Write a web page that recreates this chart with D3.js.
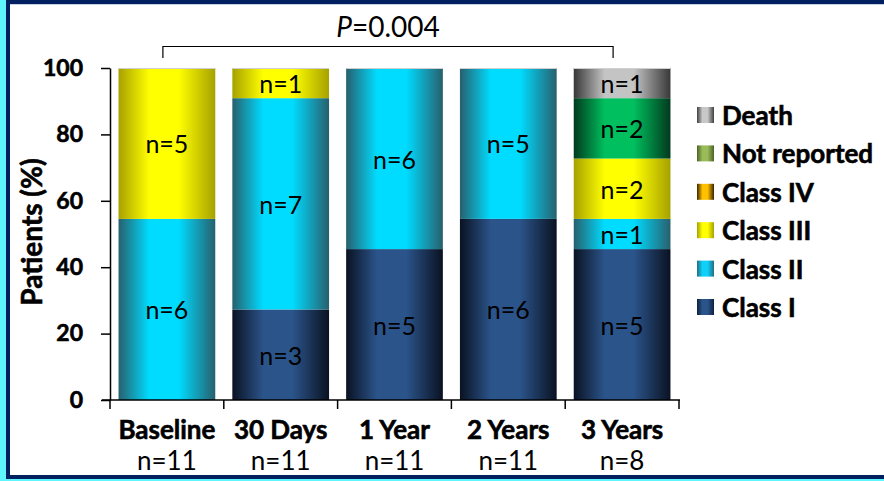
<!DOCTYPE html>
<html><head><meta charset="utf-8">
<script src="https://cdn.jsdelivr.net/npm/d3@7"></script>
<style>html,body{margin:0;padding:0;background:#fff;}svg{display:block;}</style>
</head><body>
<svg id="c" width="884" height="481"></svg>
<script>
// ---- data ----
const categories = ["Baseline", "30 Days", "1 Year", "2 Years", "3 Years"];
const groupSizes = ["n=11", "n=11", "n=11", "n=11", "n=8"];
const denominators = [11, 11, 11, 11, 11];
const seriesNames = ["Class I", "Class II", "Class III", "Class IV", "Not reported", "Death"];
const classI = [0, 3, 5, 6, 5];
const classII = [6, 7, 6, 5, 1];
const classIII = [5, 1, 0, 0, 2];
const classIV = [0, 0, 0, 0, 0];
const notReported = [0, 0, 0, 0, 2];
const death = [0, 0, 0, 0, 1];
const yTicks = [0, 20, 40, 60, 80, 100];
const pLabel = "0.004";

// gradient colours: [edge, centre]
const barColors = {
  "Class I": ["#0a1222", "#2b548a"],
  "Class II": ["#27606e", "#00dcff"],
  "Class III": ["#a6a100", "#ffff00"],
  "Class IV": ["#3d2400", "#ffc000"],
  "Not reported": ["#013a1d", "#00bf5e"],
  "Death": ["#383838", "#c4c4c4"]
};
const legendColors = {
  "Class I": ["#0f2240", "#2b548a"],
  "Class II": ["#1f6f85", "#10d0f8"],
  "Class III": ["#a6a100", "#ffff00"],
  "Class IV": ["#3d2400", "#ffc000"],
  "Not reported": ["#4a6428", "#9bbb59"],
  "Death": ["#404040", "#c8c8c8"]
};

const seriesValues = [classI, classII, classIII, classIV, notReported, death];
const rows = categories.map((c, i) => {
  const r = {cat: c};
  seriesNames.forEach((s, k) => { r["pct_" + s] = seriesValues[k][i] / denominators[i] * 100; });
  return r;
});

const svg = d3.select("#c");
const W = 884, H = 481;
const FONT = "Lato, 'Open Sans', sans-serif";
function bold(sel) { return sel.attr("font-weight", "bold").attr("stroke", "#000").attr("stroke-width", 0.6).attr("fill", "#000"); }

// frame
svg.append("rect").attr("width", W).attr("height", H).attr("fill", "#5ef6fc");
svg.append("rect").attr("x", 6).attr("y", 0).attr("width", W).attr("height", 479).attr("fill", "#002060");
svg.append("rect").attr("x", 10).attr("y", 4).attr("width", W).attr("height", 471).attr("fill", "#ffffff");
svg.append("line").attr("x1", 10).attr("x2", W).attr("y1", 4.5).attr("y2", 4.5).attr("stroke", "#c9d2e6").attr("stroke-width", 1);

// gradients
const defs = svg.append("defs");
function makeGrad(id, cols) {
  const g = defs.append("linearGradient").attr("id", id).attr("x1", "0%").attr("x2", "100%").attr("y1", "0%").attr("y2", "0%");
  g.append("stop").attr("offset", "0%").attr("stop-color", cols[0]);
  g.append("stop").attr("offset", "32%").attr("stop-color", cols[1]);
  g.append("stop").attr("offset", "62%").attr("stop-color", cols[1]);
  g.append("stop").attr("offset", "100%").attr("stop-color", cols[0]);
}
seriesNames.forEach((s, k) => { makeGrad("bar" + k, barColors[s]); makeGrad("leg" + k, legendColors[s]); });

// scales
const x = d3.scaleBand().domain(categories).range([110, 679]).paddingInner(0.15).paddingOuter(0.075);
const y = d3.scaleLinear().domain([0, 100]).range([400, 68]);

// stacked bars
const stack = d3.stack().keys(seriesNames.map(s => "pct_" + s));
const layers = stack(rows);
layers.forEach((layer, k) => {
  const g = svg.append("g");
  layer.forEach((d, i) => {
    const count = seriesValues[k][i];
    if (count <= 0) return;
    const x0 = x(categories[i]), bw = x.bandwidth();
    g.append("rect").attr("x", x0).attr("width", bw)
      .attr("y", y(d[1])).attr("height", y(d[0]) - y(d[1]))
      .attr("fill", `url(#bar${k})`);
    g.append("text").attr("x", x0 + bw / 2).attr("y", (y(d[0]) + y(d[1])) / 2)
      .attr("text-anchor", "middle").attr("dominant-baseline", "central")
      .attr("font-family", FONT).attr("font-size", 25).attr("fill", "#000")
      .text("n=" + count);
  });
});
categories.forEach(c => {
  svg.append("line").attr("x1", x(c)).attr("x2", x(c) + x.bandwidth()).attr("y1", y(100) + 0.5).attr("y2", y(100) + 0.5)
    .attr("stroke", "#cfcfcf").attr("stroke-width", 1);
});

// y axis
const yAxis = d3.axisLeft(y).tickValues(yTicks).tickSize(9).tickSizeOuter(0).tickPadding(18);
const gy = svg.append("g").attr("transform", "translate(110,0)").call(yAxis);
bold(gy.selectAll("text").attr("font-family", FONT).attr("font-size", 23));
gy.selectAll("line, path").attr("stroke", "#000").attr("stroke-width", 1.5);

// x axis with ticks at category boundaries
const gx = svg.append("g");
gx.append("line").attr("x1", 102).attr("x2", 680).attr("y1", 400).attr("y2", 400).attr("stroke", "#000").attr("stroke-width", 1.5);
const step = x.step();
const bounds = categories.map((c, i) => i === 0 ? 110 : x(c) - step * x.paddingInner() / 2);
bounds.push(679);
bounds.forEach(b => gx.append("line").attr("x1", b).attr("x2", b).attr("y1", 400).attr("y2", 409).attr("stroke", "#000").attr("stroke-width", 1.5));
categories.forEach((c, i) => {
  const cx = (bounds[i] + bounds[i + 1]) / 2;
  bold(gx.append("text").attr("x", cx).attr("y", 439).attr("text-anchor", "middle")
    .attr("font-family", FONT).attr("font-size", 26)).text(c);
  gx.append("text").attr("x", cx).attr("y", 470).attr("text-anchor", "middle")
    .attr("font-family", FONT).attr("font-size", 26).text(groupSizes[i]);
});

// y title
bold(svg.append("text").attr("transform", "translate(42,232) rotate(-90)").attr("text-anchor", "middle")
  .attr("font-family", FONT).attr("font-size", 28)).text("Patients (%)");

// P bracket
const bx1 = x(categories[0]) + x.bandwidth() / 2 - 4, bx2 = x(categories[4]) + x.bandwidth() / 2 - 9;
svg.append("path").attr("d", `M${bx1},58V46.5H${bx2}V58`).attr("fill", "none").attr("stroke", "#000").attr("stroke-width", 1.2);
const pt = svg.append("text").attr("x", (bx1 + bx2) / 2).attr("y", 37).attr("text-anchor", "middle")
  .attr("font-family", FONT).attr("font-size", 28);
pt.append("tspan").attr("font-style", "italic").text("P");
pt.append("tspan").text("=" + pLabel);

// legend
const legendOrder = seriesNames.slice().reverse();
const lg = svg.append("g");
legendOrder.forEach((s, i) => {
  const k = seriesNames.indexOf(s);
  const cy = 115 + i * 38.4;
  lg.append("rect").attr("x", 697).attr("y", cy - 8).attr("width", 17).attr("height", 16).attr("fill", `url(#leg${k})`);
  bold(lg.append("text").attr("x", 722).attr("y", cy).attr("dominant-baseline", "central")
    .attr("font-family", FONT).attr("font-size", 26)).text(s);
});
</script>
</body></html>
